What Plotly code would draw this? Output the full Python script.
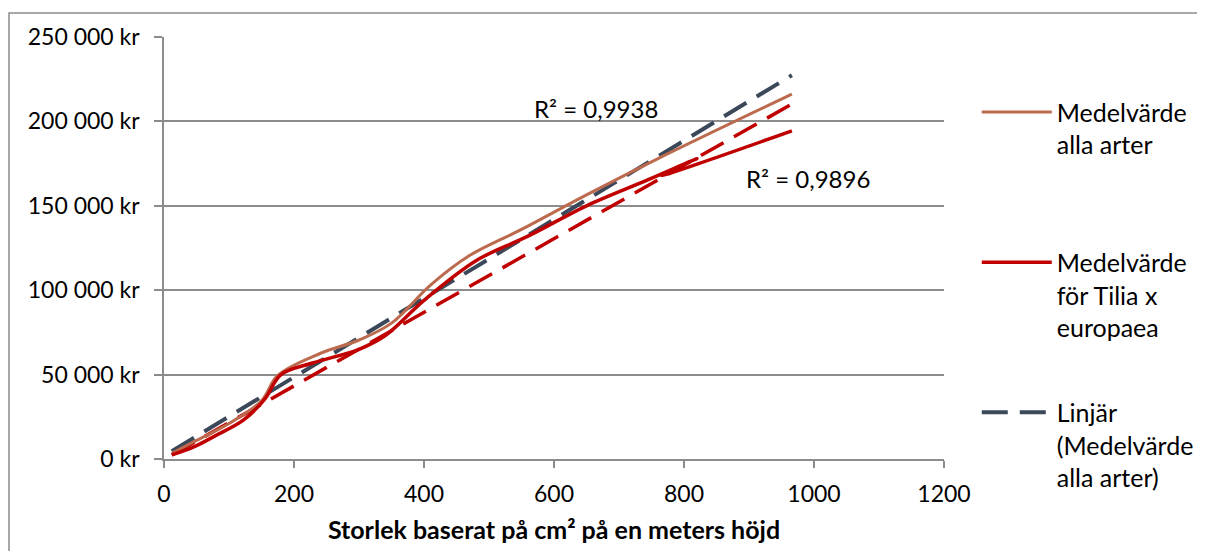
import plotly.graph_objects as go
import numpy as np

# ---- data ----
alla_x = [12, 50, 100, 150, 175, 240, 300, 350, 410, 470, 550, 650, 760, 966]
alla_y = [3400, 11000, 21000, 34500, 49500, 62500, 70500, 80500, 103000, 120500, 136000, 156500, 178000, 216200]

tilia_x = [12, 45, 80, 122, 155, 180, 230, 300, 340, 400, 480, 560, 650, 745, 820, 765, 966]
tilia_y = [2400, 7000, 14000, 23000, 35500, 50000, 57000, 65000, 73000, 94000, 117500, 132000, 150000, 165500, 178000, 168000, 194400]

# linear trendlines (slope, intercept) and R² as shown
trend_alla = (233.5, 1800)
trend_tilia = (218.0, -300)
r2_alla = "R² = 0,9938"
r2_tilia = "R² = 0,9896"

y_ticks = [0, 50000, 100000, 150000, 200000, 250000]
y_tick_labels = ["0 kr", "50 000 kr", "100 000 kr", "150 000 kr", "200 000 kr", "250 000 kr"]
x_ticks = [0, 200, 400, 600, 800, 1000, 1200]

name_alla = "Medelvärde<br>alla arter"
name_tilia = "Medelvärde<br>för Tilia x<br>europaea"
name_trend = "Linjär<br>(Medelvärde<br>alla arter)"
x_title = "Storlek baserat på cm² på en meters höjd"

# ---- styles ----
C_BROWN = "#BC6A4E"
C_RED = "#C00000"
C_DARK = "#3B4859"
C_GRID = "#8C8C8C"
FONT = "Lato"
FS = 24
FS_LEG = 25
FS_TICK = 23
DASH = "26px,12px"

fig = go.Figure()

tx_a = np.array([min(alla_x), max(alla_x)], dtype=float)
tx_t = np.array([min(tilia_x), max(tilia_x)], dtype=float)

fig.add_trace(go.Scatter(x=tx_t, y=trend_tilia[0] * tx_t + trend_tilia[1], mode="lines",
                         line=dict(color=C_RED, width=3.5, dash=DASH),
                         showlegend=False, hoverinfo="skip"))
fig.add_trace(go.Scatter(x=tx_a, y=trend_alla[0] * tx_a + trend_alla[1], mode="lines",
                         name=name_trend, legend="legend3",
                         line=dict(color=C_DARK, width=4, dash=DASH)))
fig.add_trace(go.Scatter(x=alla_x, y=alla_y, mode="lines", name=name_alla, legend="legend",
                         line=dict(color=C_BROWN, width=3, shape="spline", smoothing=1.0)))
fig.add_trace(go.Scatter(x=tilia_x, y=tilia_y, mode="lines", name=name_tilia, legend="legend2",
                         line=dict(color=C_RED, width=3.5, shape="spline", smoothing=1.0)))

fig.add_annotation(x=665, y=207500, xref="x", yref="y", text=r2_alla, showarrow=False,
                   font=dict(family=FONT, size=FS, color="#000000"))
fig.add_annotation(x=991, y=166000, xref="x", yref="y", text=r2_tilia, showarrow=False,
                   font=dict(family=FONT, size=FS, color="#000000"))

# outer chart border
fig.add_shape(type="rect", xref="paper", yref="paper", x0=-0.1987, x1=2, y0=-1, y1=1.0568,
              line=dict(color=C_GRID, width=1.5), fillcolor="rgba(0,0,0,0)", layer="below")

leg_common = dict(xanchor="left", yanchor="top", valign="top", itemwidth=70,
                  font=dict(family=FONT, size=FS_LEG, color="#000000"), bgcolor="rgba(0,0,0,0)")
fig.update_layout(
    width=1197, height=543,
    margin=dict(l=156, r=261, t=29, b=92, autoexpand=False),
    paper_bgcolor="white", plot_bgcolor="white",
    font=dict(family=FONT, size=FS, color="#000000"),
    legend=dict(x=1.042, y=0.876, **leg_common),
    legend2=dict(x=1.042, y=0.520, **leg_common),
    legend3=dict(x=1.042, y=0.1646, **leg_common),
    xaxis=dict(range=[0, 1200], tickvals=x_ticks, showgrid=False, zeroline=False,
               showline=True, linecolor=C_GRID, linewidth=1.5, ticks="outside", ticklen=7,
               tickcolor=C_GRID, tickwidth=1.5, ticklabelstandoff=7, automargin=False,
               tickfont=dict(family=FONT, size=FS_TICK),
               title=dict(text="<b>" + x_title + "</b>", font=dict(family=FONT, size=25), standoff=15)),
    yaxis=dict(range=[0, 250000], tickvals=y_ticks, ticktext=y_tick_labels, showgrid=True,
               gridcolor=C_GRID, gridwidth=1.5, zeroline=False, showline=True, linecolor=C_GRID,
               linewidth=1.5, ticks="outside", ticklen=8, tickcolor=C_GRID, tickwidth=1.5,
               ticklabelstandoff=10, automargin=False, tickfont=dict(family=FONT, size=FS_TICK)),
)

fig.write_html("out.html")
